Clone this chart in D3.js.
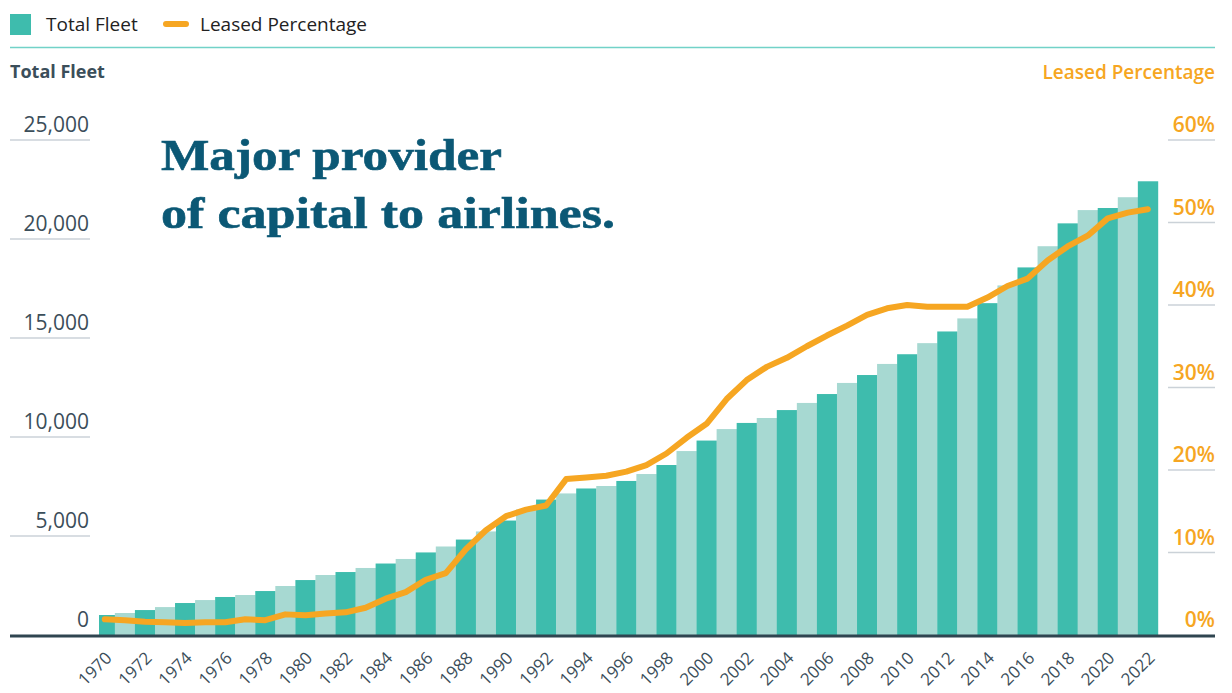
<!DOCTYPE html>
<html>
<head>
<meta charset="utf-8">
<script src="https://cdn.jsdelivr.net/npm/d3@7.8.5/dist/d3.min.js"></script>
<style>
  html, body { margin: 0; padding: 0; background: #fff; }
  svg { display: block; font-family: "Open Sans", "Lato", sans-serif; }
</style>
</head>
<body>
<div id="chart"></div>
<script>
// ── Data ────────────────────────────────────────────────────────────────
const years = d3.range(1970, 2023);

const totalFleet = [
  1010, 1110, 1260, 1410, 1615, 1765, 1920, 2020, 2220, 2475,
  2775, 3030, 3180, 3385, 3610, 3840, 4170, 4470, 4820, 5230,
  5780, 6340, 6840, 7150, 7400, 7525, 7780, 8130, 8585, 9290,
  9820, 10400, 10710, 10960, 11360, 11720, 12170, 12730, 13130, 13690,
  14180, 14740, 15330, 15990, 16760, 17655, 18565, 19635, 20790, 21460,
  21565, 22110, 22915
];

const leasedPct = [
  1.9, 1.8, 1.6, 1.55, 1.45, 1.55, 1.55, 1.9, 1.8, 2.5,
  2.4, 2.6, 2.75, 3.3, 4.4, 5.2, 6.7, 7.5, 10.4, 12.7,
  14.4, 15.2, 15.7, 18.9, 19.1, 19.3, 19.8, 20.6, 22.0, 23.9,
  25.6, 28.6, 30.9, 32.5, 33.6, 35.0, 36.3, 37.5, 38.8, 39.6,
  40.0, 39.8, 39.8, 39.8, 40.9, 42.3, 43.2, 45.4, 47.1, 48.4,
  50.5, 51.2, 51.6
];

const fleetTicks = [0, 5000, 10000, 15000, 20000, 25000];
const pctTicks = [0, 10, 20, 30, 40, 50, 60];
const yearTicks = years.filter((y) => y % 2 === 0);

const titleLines = ["Major provider", "of capital to airlines."];
const titleWidths = [341, 454]; // line widths

// ── Style ───────────────────────────────────────────────────────────────
const W = 1232, H = 693;
const DARK_TEAL = "#3ebcad";
const LIGHT_TEAL = "#a7d9d2";
const ORANGE = "#f6a622";
const INK = "#3b4e5a";
const GRID = "#cbd2d8";
const BASE_Y = 635;
const TOP_Y = 140;

const svg = d3.select("#chart").append("svg")
  .attr("width", W).attr("height", H);

// scales
const x = d3.scaleBand().domain(years).range([94.8, 1157.9]).padding(0);
const yL = d3.scaleLinear().domain([0, 25000]).range([BASE_Y, TOP_Y]);
const yR = d3.scaleLinear().domain([0, 60]).range([BASE_Y, TOP_Y]);

// ── Legend ──────────────────────────────────────────────────────────────
svg.append("rect").attr("x", 10).attr("y", 14).attr("width", 21).attr("height", 21)
  .attr("fill", DARK_TEAL);
svg.append("text").attr("x", 46).attr("y", 31)
  .style("font-size", "19px").style("fill", "#222").text("Total Fleet");
svg.append("line").attr("x1", 166).attr("x2", 186).attr("y1", 24).attr("y2", 24)
  .attr("stroke", ORANGE).attr("stroke-width", 6).attr("stroke-linecap", "round");
svg.append("text").attr("x", 200).attr("y", 31)
  .style("font-size", "19px").style("fill", "#222").text("Leased Percentage");

svg.append("line").attr("x1", 10).attr("x2", 1215).attr("y1", 47.5).attr("y2", 47.5)
  .attr("stroke", "#72d2c8").attr("stroke-width", 1.5);

// axis titles
svg.append("text").attr("x", 10).attr("y", 78)
  .style("font-size", "18px").style("font-weight", "700").style("fill", INK)
  .text("Total Fleet");
svg.append("text").attr("x", 1215).attr("y", 79).attr("text-anchor", "end")
  .style("font-size", "19px").style("font-weight", "600").style("fill", ORANGE)
  .text("Leased Percentage");

// ── Left axis (labels with short rule under each) ───────────────────────
const left = svg.append("g");
fleetTicks.forEach((t) => {
  const y = yL(t);
  if (t > 0) {
    left.append("line").attr("x1", 10).attr("x2", 90).attr("y1", y).attr("y2", y)
      .attr("stroke", GRID).attr("stroke-width", 1.5);
  }
  left.append("text").attr("x", 89).attr("y", y - 8).attr("text-anchor", "end")
    .style("font-size", "21px").style("fill", INK)
    .text(d3.format(",")(t));
});

// ── Right axis ──────────────────────────────────────────────────────────
const right = svg.append("g");
pctTicks.forEach((t) => {
  const y = yR(t);
  if (t > 0) {
    right.append("line").attr("x1", 1168).attr("x2", 1215).attr("y1", y).attr("y2", y)
      .attr("stroke", GRID).attr("stroke-width", 1.5);
  }
  right.append("text").attr("x", 1215).attr("y", y - 8).attr("text-anchor", "end")
    .style("font-size", "21px").style("font-weight", "600").style("fill", ORANGE)
    .text(t + "%");
});

// ── Bars ────────────────────────────────────────────────────────────────
svg.append("clipPath").attr("id", "plot-clip")
  .append("rect").attr("x", 99).attr("y", 0).attr("width", 1100).attr("height", BASE_Y);

svg.append("g").attr("clip-path", "url(#plot-clip)")
  .selectAll("rect")
  .data(years)
  .join("rect")
  .attr("x", (d) => x(d))
  .attr("width", x.bandwidth() + 0.3)
  .attr("y", (d, i) => yL(totalFleet[i]))
  .attr("height", (d, i) => BASE_Y - yL(totalFleet[i]))
  .attr("fill", (d) => (d % 2 === 0 ? DARK_TEAL : LIGHT_TEAL));

// baseline
svg.append("line").attr("x1", 10).attr("x2", 1215).attr("y1", BASE_Y + 1).attr("y2", BASE_Y + 1)
  .attr("stroke", "#2f4550").attr("stroke-width", 3);

// ── Leased line ─────────────────────────────────────────────────────────
const line = d3.line()
  .x((d, i) => x(years[i]) + x.bandwidth() / 2)
  .y((d) => yR(d));

svg.append("path").datum(leasedPct)
  .attr("d", line)
  .attr("fill", "none")
  .attr("stroke", ORANGE)
  .attr("stroke-width", 6)
  .attr("stroke-linejoin", "round")
  .attr("stroke-linecap", "round");

// ── X labels ────────────────────────────────────────────────────────────
svg.append("g").selectAll("text")
  .data(yearTicks)
  .join("text")
  .attr("transform", (d) => `translate(${x(d) + x.bandwidth() / 2 + 8},${BASE_Y + 24}) rotate(-45)`)
  .attr("text-anchor", "end")
  .style("font-size", "17px")
  .style("fill", INK)
  .text((d) => d);

// ── Headline ────────────────────────────────────────────────────────────
const title = svg.append("g")
  .style("font-family", '"Liberation Serif", "DejaVu Serif", serif')
  .style("font-weight", "700")
  .style("font-size", "45px")
  .style("fill", "#0b5875");
titleLines.forEach((s, i) => {
  title.append("text")
    .attr("x", 161)
    .attr("y", 170 + i * 58)
    .attr("textLength", titleWidths[i])
    .attr("lengthAdjust", "spacingAndGlyphs")
    .style("stroke", "#0b5875")
    .style("stroke-width", "0.6px")
    .text(s);
});
</script>
</body>
</html>
